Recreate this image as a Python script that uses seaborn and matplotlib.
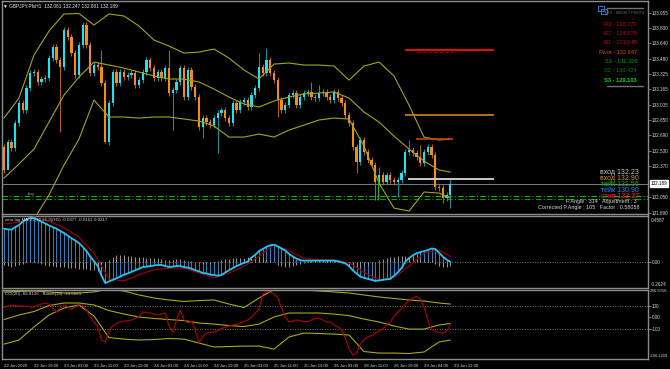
import matplotlib
matplotlib.use("Agg")
import matplotlib.pyplot as plt
import matplotlib.transforms as mtransforms
from matplotlib.lines import Line2D
from matplotlib.patches import Rectangle
import numpy as np
import seaborn as sns

# ---- data (GBPJPY H1) ----
first_open = 132.569
closes = [132.332, 132.621, 132.559, 132.817, 133.023, 132.951, 133.178, 133.333, 133.343, 133.240,
          133.271, 133.281, 133.487, 133.601, 133.467, 133.395, 133.776, 133.704, 133.539, 133.312,
          133.622, 133.828, 133.622, 133.333, 133.415, 133.395, 133.229, 132.621, 133.023, 133.343,
          133.229, 133.343, 133.291, 133.312, 133.333, 133.209, 133.260, 133.343, 133.467, 133.384,
          133.281, 133.343, 133.281, 133.384, 133.126, 133.157, 133.240, 133.384, 133.085, 133.364,
          133.188, 133.085, 132.775, 132.868, 132.827, 132.796, 132.868, 132.920, 132.951, 132.868,
          132.817, 133.023, 132.951, 133.033, 133.054, 132.982, 133.106, 133.178, 133.395, 133.333,
          133.467, 133.333, 133.260, 133.054, 132.951, 133.002, 133.106, 133.126, 133.002, 133.085,
          133.126, 133.137, 133.085, 133.075, 133.126, 133.137, 133.085, 133.054, 133.137, 133.075,
          133.023, 132.899, 132.817, 132.569, 132.414, 132.641, 132.517, 132.435, 132.383, 132.208,
          132.280, 132.208, 132.280, 132.228, 132.208, 132.228, 132.301, 132.517, 132.538, 132.507,
          132.466, 132.404, 132.517, 132.569, 132.486, 132.156, 132.146, 132.043, 132.074, 132.189]
wick = 0.03  # usual shadow length
high_marks = {26: 133.570, 44: 133.570, 68: 133.539, 70: 133.590, 82: 133.240, 84: 133.209,
              100: 132.363, 108: 132.641, 111: 132.590, 119: 132.247}
low_marks = {1: 132.486, 15: 132.724, 27: 132.610, 45: 132.744, 53: 132.662, 57: 132.507,
             73: 132.879, 94: 132.301, 99: 132.022, 105: 132.053, 117: 131.991, 119: 131.939}

# Bollinger bands, read every 4 bars
band_idx = [0, 4, 8, 12, 16, 20, 24, 28, 32, 36, 40, 44, 48, 52, 56, 60,
            64, 68, 72, 76, 80, 84, 88, 92, 96, 100, 104, 108, 112, 116, 119]
bb_upper = [132.868, 133.075, 133.518, 133.766, 133.942, 133.947, 133.828, 133.942, 133.921, 133.818,
            133.673, 133.611, 133.539, 133.549, 133.580, 133.487, 133.364, 133.271, 133.425, 133.436,
            133.415, 133.415, 133.405, 133.260, 133.405, 133.446, 133.302, 133.002, 132.672, 132.641, 132.652]
bb_mid = [132.249, 132.394, 132.548, 132.827, 133.106, 133.291, 133.446, 133.415, 133.384, 133.343,
          133.302, 133.271, 133.271, 133.240, 133.167, 133.085, 133.013, 132.982, 133.044, 133.085,
          133.116, 133.126, 133.137, 133.075, 132.930, 132.827, 132.682, 132.548, 132.424, 132.332, 132.311]
bb_lower = [131.506, 131.609, 131.826, 132.074, 132.383, 132.652, 133.054, 132.879, 132.879, 132.868,
            132.879, 132.879, 132.858, 132.837, 132.786, 132.672, 132.672, 132.703, 132.672, 132.744,
            132.796, 132.848, 132.868, 132.858, 132.579, 132.197, 131.939, 131.908, 132.105, 132.094, 132.043]

# zero lag MACD
macd = [0.331, 0.325, 0.320, 0.347, 0.368, 0.400, 0.427, 0.437, 0.437, 0.421,
        0.400, 0.384, 0.363, 0.347, 0.331, 0.309, 0.288, 0.261, 0.235, 0.213,
        0.187, 0.149, 0.107, 0.053, 0.005, -0.043, -0.139, -0.213, -0.197, -0.181,
        -0.165, -0.149, -0.128, -0.117, -0.101, -0.085, -0.069, -0.053, -0.048, -0.043,
        -0.037, -0.032, -0.032, -0.043, -0.053, -0.048, -0.043, -0.043, -0.053, -0.059,
        -0.069, -0.085, -0.096, -0.112, -0.117, -0.128, -0.133, -0.139, -0.133, -0.107,
        -0.085, -0.064, -0.043, -0.027, -0.011, 0.000, 0.043, 0.069, 0.107, 0.128,
        0.149, 0.165, 0.171, 0.155, 0.133, 0.112, 0.080, 0.053, 0.032, 0.016,
        0.011, 0.011, 0.011, 0.011, 0.011, 0.011, 0.011, 0.011, 0.011, 0.005,
        -0.005, -0.016, -0.043, -0.085, -0.117, -0.149, -0.160, -0.171, -0.181, -0.192,
        -0.187, -0.181, -0.176, -0.171, -0.139, -0.107, -0.064, 0.000, 0.037, 0.064,
        0.085, 0.096, 0.107, 0.117, 0.133, 0.128, 0.091, 0.053, 0.021, 0.000]
macd_osc = [-0.03, -0.04, -0.05, -0.04, -0.03, -0.02, 0.01, 0.02, 0.01, -0.01,
            -0.02, -0.03, -0.04, -0.04, -0.05, -0.05, -0.05, -0.06, -0.06, -0.06,
            -0.07, -0.07, -0.07, -0.08, -0.08, -0.09, -0.09, -0.06, 0.02, 0.05,
            0.07, 0.07, 0.07, 0.06, 0.06, 0.05, 0.05, 0.05, 0.04, 0.04,
            0.04, 0.04, 0.03, 0.02, 0.02, 0.02, 0.03, 0.03, 0.02, 0.01,
            0.01, 0.00, -0.01, -0.02, -0.02, -0.02, -0.02, 0.01, 0.02, 0.03,
            0.03, 0.04, 0.04, 0.04, 0.04, 0.05, 0.05, 0.05, 0.05, 0.04,
            0.03, 0.02, 0.00, -0.03, -0.04, -0.05, -0.05, -0.04, -0.03, -0.02,
            -0.01, 0.01, 0.02, 0.02, 0.02, 0.02, 0.02, 0.02, 0.02, 0.01,
            0.00, -0.01, -0.03, -0.04, -0.04, -0.05, -0.04, -0.04, -0.02, 0.00,
            0.02, 0.03, 0.04, 0.05, 0.05, 0.06, 0.06, 0.06, 0.05, 0.05,
            0.04, 0.03, 0.03, 0.03, 0.02, -0.02, -0.04, -0.05, -0.05, -0.04]
macd_signal = [0.379, 0.395, 0.448, 0.405, 0.341, 0.245, 0.085, -0.171, -0.192, -0.128,
               -0.080, -0.064, -0.064, -0.112, -0.160, -0.112, -0.043, 0.053, 0.171, 0.112,
               0.032, 0.021, 0.021, -0.011, -0.107, -0.181, -0.160, -0.043, 0.085, 0.117, 0.053]

# CCI(20) and its bands
cci = [84, 97, 106, 101, 97, 97, 93, 89, 89, 106,
       114, 123, 114, 80, 46, 80, 106, 89, 67, 89,
       106, 106, 63, 3, -40, -83, -195, -212, -109, -75,
       -53, -40, -32, -28, -23, -10, 11, 46, 41, 37,
       28, 20, 28, 37, -75, -126, -23, 63, -23, -49,
       -32, -109, -221, -161, -135, -131, -126, -114, -96, -83,
       -75, -66, -58, -49, -36, -23, 3, 37, 71, 200,
       218, 218, 200, 170, 80, 3, -40, -32, -23, -28,
       -36, -36, -23, -10, -6, -23, -40, -40, -66, -83,
       -109, -178, -273, -324, -307, -230, -191, -169, -157, -135,
       -118, -101, -66, -40, 11, 46, 71, 114, 144, 166,
       179, 157, 89, -23, -101, -122, -131, -135, -118, -67]
cci_upper = [218, 222, 226, 218, 209, 209, 218, 243, 226, 192, 166, 149, 136, 144, 149, 114,
             84, 166, 239, 243, 235, 226, 218, 209, 192, 175, 162, 149, 140, 123, 114]
cci_mid = [-19, 20, 50, 101, 123, 123, 106, 58, 28, 3, -10, -19, -28, -49, -58, -71,
           -79, -58, 3, 37, 37, 37, 28, 15, -15, -40, -75, -101, -101, -66, -53]
cci_lower = [-230, -195, -83, 20, 80, 106, 11, -174, -187, -195, -191, -182, -187, -221, -255, -251,
             -247, -247, -273, -169, -135, -139, -144, -152, -294, -307, -307, -311, -298, -212, -195]

price_ticks = [133.955, 133.800, 133.640, 133.480, 133.325, 133.165, 133.005,
               132.850, 132.690, 132.530, 132.370, 132.050, 131.890]
time_ticks = [0, 8, 16, 24, 32, 40, 48, 56, 64, 72, 80, 88, 96, 104, 112, 120]
time_labels = ["22 Jun 2020", "22 Jun 19:00", "23 Jun 03:00", "23 Jun 11:00", "23 Jun 19:00",
               "24 Jun 03:00", "24 Jun 11:00", "24 Jun 19:00", "25 Jun 03:00", "25 Jun 11:00",
               "25 Jun 19:00", "26 Jun 03:00", "26 Jun 11:00", "26 Jun 19:00", "29 Jun 04:00",
               "29 Jun 12:00"]

pivot_names = ["R3", "R2", "R1", "Pivot", "S1", "S2", "S3"]
pivot_values = [136.772, 134.870, 133.549, 132.647, 131.326, 130.424, 129.103]
pivot_colors = ["#d40000", "#b8002c", "#c0002c", "#e04a00", "#00a000", "#008200", "#00dc00"]

trade_labels = ["вход 132.23", "вход 132.90", "тейк 131.56", "тейк 130.90", "стоп 133.37"]
trade_colors = ["#c8c8c8", "#e0940c", "#00c000", "#1e8cff", "#ff1e1e"]

bid = 132.189
entry_white, entry_orange = 132.239, 132.899
r1_line, r1_dash, pivot_line = 133.567, 133.545, 132.648
buy_lines = [132.063, 132.032]

# ---- styling ----
sns.set_theme(style="dark", rc={"axes.facecolor": "black", "figure.facecolor": "black",
                                "axes.edgecolor": "#8c8c8c", "axes.grid": False})
plt.rcParams["font.family"] = ["Liberation Sans", "DejaVu Sans"]

W, H = 670, 369
TXT = "#d4d4d4"
fig = plt.figure(figsize=(W / 100, H / 100), dpi=100)


def panel(top, bottom):
    return fig.add_axes([2 / W, 1 - bottom / H, 646 / W, (bottom - top) / H])


def put(x, y, s, **kw):
    kw.setdefault("va", "center")
    kw.setdefault("fontsize", 3.3)
    fig.text(x / W, 1 - y / H, s, **kw)


ax = panel(1, 214)
ax_m = panel(215.5, 288)
ax_c = panel(289.5, 359)
XL = (-0.53, 171.73)
for a in (ax, ax_m, ax_c):
    a.set_xlim(*XL)
    a.set_facecolor("black")
    for s in a.spines.values():
        s.set_color("#8c8c8c")
        s.set_linewidth(1.0)
    a.yaxis.tick_right()
    a.tick_params(axis="y", colors="#8c8c8c", labelcolor=TXT, labelsize=3.3,
                  length=2, width=0.6, pad=1)
    a.set_xticks([])

# ---- candles ----
n = len(closes)
idx = np.arange(n)
opens = np.array([first_open] + closes[:-1])
cl = np.array(closes)
hi = np.maximum(opens, cl) + wick
lo = np.minimum(opens, cl) - wick
for k, v in high_marks.items():
    hi[k] = v
for k, v in low_marks.items():
    lo[k] = v
up = cl >= opens
ax.vlines(idx[up], lo[up], hi[up], color="#138e98", lw=0.8, zorder=2)
ax.vlines(idx[~up], lo[~up], hi[~up], color="#b0620e", lw=0.8, zorder=2)
body = np.maximum(np.abs(cl - opens), 0.008)
ax.bar(idx[up], body[up], bottom=opens[up], width=0.6, color="#1ee4f0", lw=0, zorder=3)
ax.bar(idx[~up], body[~up], bottom=cl[~up], width=0.6, color="#f68c12", lw=0, zorder=3)

for band in (bb_upper, bb_mid, bb_lower):
    sns.lineplot(x=band_idx, y=band, ax=ax, color="#a4a41c", lw=0.8,
                 estimator=None, sort=False, legend=False, zorder=4)

# trade / pivot levels
ax.hlines(bid, *XL, color="#6f7f8f", lw=0.7, zorder=1)
for y, c in zip(buy_lines, ["#10b810", "#0a9a0a"]):
    ax.hlines(y, *XL, color=c, lw=0.8, linestyles=(0, (5, 2, 1, 2)), zorder=1)
ax.hlines(r1_line, 106.9, 130.7, color="#ff0a0a", lw=1.3, zorder=5)
ax.hlines(r1_dash, 110.0, 119.7, color="#a00000", lw=0.8, linestyles=(0, (3, 2)), zorder=5)
ax.hlines(entry_orange, 106.9, 130.7, color="#c47a10", lw=1.3, zorder=5)
ax.hlines(pivot_line, 109.9, 119.7, color="#c8401a", lw=1.2, zorder=5)
ax.hlines(entry_white, 107.7, 130.7, color="#c8c8c8", lw=1.4, zorder=5)
ax.vlines(99.7, 132.022, 132.259, color="#10c010", lw=0.8, zorder=5)

ax.set_ylim(131.878, 134.076)
ax.set_yticks(price_ticks)
ax.set_yticklabels([f"{p:.3f}" for p in price_ticks])
trans = mtransforms.blended_transform_factory(ax.transAxes, ax.transData)
ax.text(1.004, bid, f"{bid:.3f}", transform=trans, fontsize=3.3, color="black", va="center",
        bbox=dict(boxstyle="square,pad=0.2", fc="white", ec="white"), zorder=10, clip_on=False)

# ---- MACD panel ----
ax_m.vlines(idx, 0, macd, color="#2a86c4", lw=0.7, zorder=2)
ax_m.vlines(idx, 0, macd_osc, color="#9a9a9a", lw=0.7, zorder=2)
ax_m.axhline(0, color="#9a9a9a", lw=0.6, ls=(0, (1, 2)), zorder=1)
sns.lineplot(x=band_idx, y=macd_signal, ax=ax_m, color="#a00000", lw=0.8,
             estimator=None, sort=False, legend=False, zorder=3)
sns.lineplot(x=idx, y=macd, ax=ax_m, color="#22c4f6", lw=1.3,
             estimator=None, sort=False, legend=False, zorder=4)
ax_m.set_ylim(-0.2624, 0.463)
ax_m.set_yticks([0])
ax_m.set_yticklabels(["0.00"])

# ---- CCI panel ----
ax_c.axhline(100, color="#9a9a9a", lw=0.6, ls=(0, (1, 2)), zorder=1)
ax_c.axhline(-100, color="#9a9a9a", lw=0.6, ls=(0, (1, 2)), zorder=1)
for band in (cci_upper, cci_mid, cci_lower):
    sns.lineplot(x=band_idx, y=band, ax=ax_c, color="#a8a81c", lw=0.8,
                 estimator=None, sort=False, legend=False, zorder=2)
sns.lineplot(x=idx, y=cci, ax=ax_c, color="#b00000", lw=0.8,
             estimator=None, sort=False, legend=False, zorder=3)
ax_c.set_ylim(-358, 239)
ax_c.set_yticks([100, 0, -100])
ax_c.set_yticklabels(["100", "0.00", "-100"])
ax_c.set_xticks(time_ticks)
ax_c.set_xticklabels(time_labels, ha="left")
ax_c.tick_params(axis="x", colors="#8c8c8c", labelcolor=TXT, labelsize=3.1,
                 length=2, width=0.6, pad=1.5)

# ---- texts ----
put(3, 6, "\u25bc GBPJPY.PfxH1  132.081 132.247 132.081 132.189", color="#eeeeee", fontsize=3.4)
put(5, 220, "zero lag MACD(12,26,9)(H1) -0.0377 -0.0161 0.0217", color=TXT, fontsize=3.2)
put(5, 294, "CCI(20) -66.8126   Bands(20) -34.5923", color=TXT, fontsize=3.2)
put(651, 220, "0.4587", color=TXT)
put(651, 284, "-0.2624", color=TXT)
put(650, 291.5, "246.5016", color=TXT, fontsize=3.1)
put(650, 356, "-266.1209", color=TXT, fontsize=2.9)

for k, (lab, c) in enumerate(zip(trade_labels, trade_colors)):
    put(639, 172.5 + 6 * k, lab, color=c, ha="right", fontsize=5.0)
put(637, 202, "P.Angle : 314   Adjustment : 3", color="#d8d8d8", ha="right", fontsize=3.9)
put(639, 208, "Corrected P.Angle : 105   Factor : 0.58058", color="#d8d8d8", ha="right", fontsize=3.9)
put(31, 194, "buy", color="#a0a0a0", fontsize=3.2, ha="center")

# weekly pivot box
fig.add_artist(Line2D([607 / W, 643 / W], [1 - 8.3 / H] * 2, color="#707070", lw=1))
fig.add_artist(Line2D([607 / W, 643 / W], [1 - 86 / H] * 2, color="#707070", lw=1))
fig.add_artist(Rectangle((598 / W, 1 - 11 / H), 6 / W, 5 / H, fill=False, ec="#2f6fc0", lw=0.8))
fig.add_artist(Rectangle((601 / W, 1 - 14 / H), 6 / W, 5 / H, fill=False, ec="#2f6fc0", lw=0.8))
put(625, 13.5, "MFX - WEEKLY PIVOTS", color="#707070", fontsize=2.6, ha="center")
for k, (nm, v, c) in enumerate(zip(pivot_names, pivot_values, pivot_colors)):
    put(637, 24.3 + 9.3 * k, f"{nm} - {v:.3f}", color=c, ha="right", fontsize=4.1,
        fontweight="bold" if nm == "S3" else "normal")

fig.savefig("out.png", dpi=100, facecolor="black")
